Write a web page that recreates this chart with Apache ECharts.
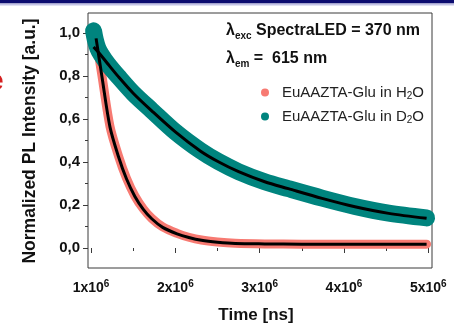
<!DOCTYPE html>
<html>
<head>
<meta charset="utf-8">
<script src="https://cdn.jsdelivr.net/npm/echarts@6/dist/echarts.min.js"></script>
<style>
html,body{margin:0;padding:0;background:#fff;}
#c{width:454px;height:325px;}
</style>
</head>
<body>
<div id="c"></div>
<script>
// ---- data (time in ns) ----
const timeH2O = [1040000,1060000,1130000,1225000,1324000,1420000,1520000,1620000,1720000,1850000,2020000,2160000,2310000,2500000,2710000,3060000,3500000,4000000,4500000,4980000];
const valH2O  = [1.01,0.97,0.80,0.565,0.43,0.325,0.242,0.182,0.138,0.098,0.068,0.050,0.037,0.028,0.022,0.019,0.018,0.018,0.018,0.018];

const timeD2O = [1030000,1050000,1080000,1120000,1200000,1324000,1500000,1720000,2000000,2300000,2510000,2750000,3060000,3340000,3740000,4130000,4530000,4980000];
const valD2O  = [1.01,0.97,0.93,0.90,0.855,0.797,0.72,0.64,0.54,0.452,0.402,0.355,0.308,0.276,0.232,0.193,0.162,0.14];

const fitTimeH2O = [1060000,1130000,1225000,1324000,1420000,1520000,1620000,1720000,1850000,2020000,2160000,2310000,2500000,2710000,3060000,3500000,4000000,4500000,4980000];
const fitValH2O  = [0.975,0.795,0.562,0.427,0.322,0.240,0.180,0.136,0.096,0.066,0.049,0.036,0.027,0.021,0.019,0.018,0.018,0.018,0.018];

const fitTimeD2O = [1030000,1100000,1200000,1324000,1500000,1720000,2000000,2300000,2510000,2750000,3060000,3340000,3740000,4130000,4530000,4980000];
const fitValD2O  = [0.935,0.905,0.856,0.797,0.72,0.638,0.54,0.45,0.401,0.355,0.308,0.276,0.231,0.192,0.161,0.138];

const xTickValues = [1000000,2000000,3000000,4000000,5000000];
const xMinorTicks = [1500000,2500000,3500000,4500000];
const yTickValues = [0,0.2,0.4,0.6,0.8,1.0];
const yMinorTicks = [0.1,0.3,0.5,0.7,0.9];

const legendNames = ['EuAAZTA-Glu in H2O','EuAAZTA-Glu in D2O'];

const zip = (a,b) => a.map((t,i) => [t,b[i]]);

const PINK = '#f77a72';
const TEAL = '#00847e';
const FONT = 'Liberation Sans, Arial, sans-serif';

const chart = echarts.init(document.getElementById('c'));

const xMin = 964000, xMax = 5044000, yMin = -0.093, yMax = 1.093;

const option = {
  animation: false,
  backgroundColor: '#fff',
  grid: {left: 88, top: 13, right: 22, bottom: 57, show: true, borderColor: '#3a3a3a', borderWidth: 1, backgroundColor: 'transparent'},
  xAxis: [
    {type: 'value', min: xMin, max: xMax, gridIndex: 0, position: 'bottom',
     axisLine: {show: false}, splitLine: {show: false},
     axisTick: {show: true, customValues: xTickValues, length: 5, lineStyle: {color: '#3a3a3a'}},
     axisLabel: {customValues: xTickValues, margin: 11, fontFamily: FONT, fontWeight: 'bold', color: '#111',
       formatter: v => '{b|' + Math.round(v/1e6) + 'x10}{p|6}',
       rich: {b: {fontSize: 14, fontWeight: 'bold', fontFamily: FONT, color: '#111', lineHeight: 19},
              p: {fontSize: 10, fontWeight: 'bold', fontFamily: FONT, color: '#111', verticalAlign: 'top'}}}},
    {type: 'value', min: xMin, max: xMax, gridIndex: 0, position: 'bottom',
     axisLine: {show: false}, splitLine: {show: false}, axisLabel: {show: false},
     axisTick: {show: true, customValues: xMinorTicks, length: 3, lineStyle: {color: '#3a3a3a'}}}
  ],
  yAxis: [
    {type: 'value', min: yMin, max: yMax, position: 'left',
     axisLine: {show: false}, splitLine: {show: false},
     axisTick: {show: true, customValues: yTickValues, length: 5, lineStyle: {color: '#3a3a3a'}},
     axisLabel: {customValues: yTickValues, margin: 8, fontFamily: FONT, fontWeight: 'bold', fontSize: 15, color: '#111',
       formatter: v => v.toFixed(1).replace('.', ',')}},
    {type: 'value', min: yMin, max: yMax, position: 'left',
     axisLine: {show: false}, splitLine: {show: false}, axisLabel: {show: false},
     axisTick: {show: true, customValues: yMinorTicks, length: 3, lineStyle: {color: '#3a3a3a'}}}
  ],
  legend: {
    left: 256, top: 79, orient: 'vertical', itemWidth: 24, itemHeight: 8, itemGap: 7,
    icon: 'circle', data: legendNames,
    formatter: n => n.replace(/(H|D)2O$/, '$1{s|2}O'),
    textStyle: {fontFamily: FONT, fontSize: 15, color: '#222', lineHeight: 17,
      rich: {s: {fontSize: 10, fontFamily: FONT, color: '#222', verticalAlign: 'bottom'}}}
  },
  series: [
    {name: legendNames[0], type: 'line', xAxisIndex: 0, yAxisIndex: 0, data: zip(timeH2O, valH2O), smooth: 0.3,
     showSymbol: false, symbol: 'circle', color: PINK, itemStyle: {color: PINK},
     lineStyle: {color: PINK, width: 9, cap: 'round', join: 'round'}, z: 2},
    {name: legendNames[1], type: 'line', xAxisIndex: 0, yAxisIndex: 0, data: zip(timeD2O, valD2O), smooth: 0.3,
     showSymbol: false, symbol: 'circle', color: TEAL, itemStyle: {color: TEAL},
     lineStyle: {color: TEAL, width: 17, cap: 'round', join: 'round'}, z: 3},
    {name: 'fitH2O', type: 'line', data: zip(fitTimeH2O, fitValH2O), smooth: 0.3, showSymbol: false,
     lineStyle: {color: '#000', width: 3}, z: 4},
    {name: 'fitD2O', type: 'line', data: zip(fitTimeD2O, fitValD2O), smooth: 0.3, showSymbol: false,
     lineStyle: {color: '#000', width: 3}, z: 4}
  ],
  graphic: [
    {type: 'rect', left: 0, top: 0, shape: {width: 454, height: 3.5}, style: {fill: '#0c0c70'}, z: 10},
    {type: 'rect', left: 0, top: 3.5, shape: {width: 454, height: 2}, style: {fill: '#c4c4e6'}, z: 10},
    {type: 'text', x: -13, y: 82, style: {text: 'e', font: 'bold 30px ' + FONT, fill: '#d42020', verticalAlign: 'middle'}},
    {type: 'text', x: 30, y: 141, rotation: Math.PI/2,
     style: {text: 'Normalized PL Intensity [a.u.]', font: 'bold 17.5px ' + FONT, fill: '#111', align: 'center', verticalAlign: 'middle'}},
    {type: 'text', x: 256, y: 315,
     style: {text: 'Time [ns]', font: 'bold 17px ' + FONT, fill: '#111', align: 'center', verticalAlign: 'middle'}},
    {type: 'text', x: 226, y: 21,
     style: {text: '{l|λ}{s|exc}{t| SpectraLED = 370 nm}',
       rich: {l: {fontSize: 16, fontWeight: 'bold', fontFamily: FONT, fill: '#111', lineHeight: 20},
              s: {fontSize: 10, fontWeight: 'bold', fontFamily: FONT, fill: '#111', verticalAlign: 'bottom'},
              t: {fontSize: 16, fontWeight: 'bold', fontFamily: FONT, fill: '#111', lineHeight: 20}}}},
    {type: 'text', x: 226, y: 49,
     style: {text: '{l|λ}{s|em}{t| =  615 nm}',
       rich: {l: {fontSize: 16, fontWeight: 'bold', fontFamily: FONT, fill: '#111', lineHeight: 20},
              s: {fontSize: 10, fontWeight: 'bold', fontFamily: FONT, fill: '#111', verticalAlign: 'bottom'},
              t: {fontSize: 16, fontWeight: 'bold', fontFamily: FONT, fill: '#111', lineHeight: 20}}}}
  ]
};
chart.setOption(option);
</script>
</body>
</html>
